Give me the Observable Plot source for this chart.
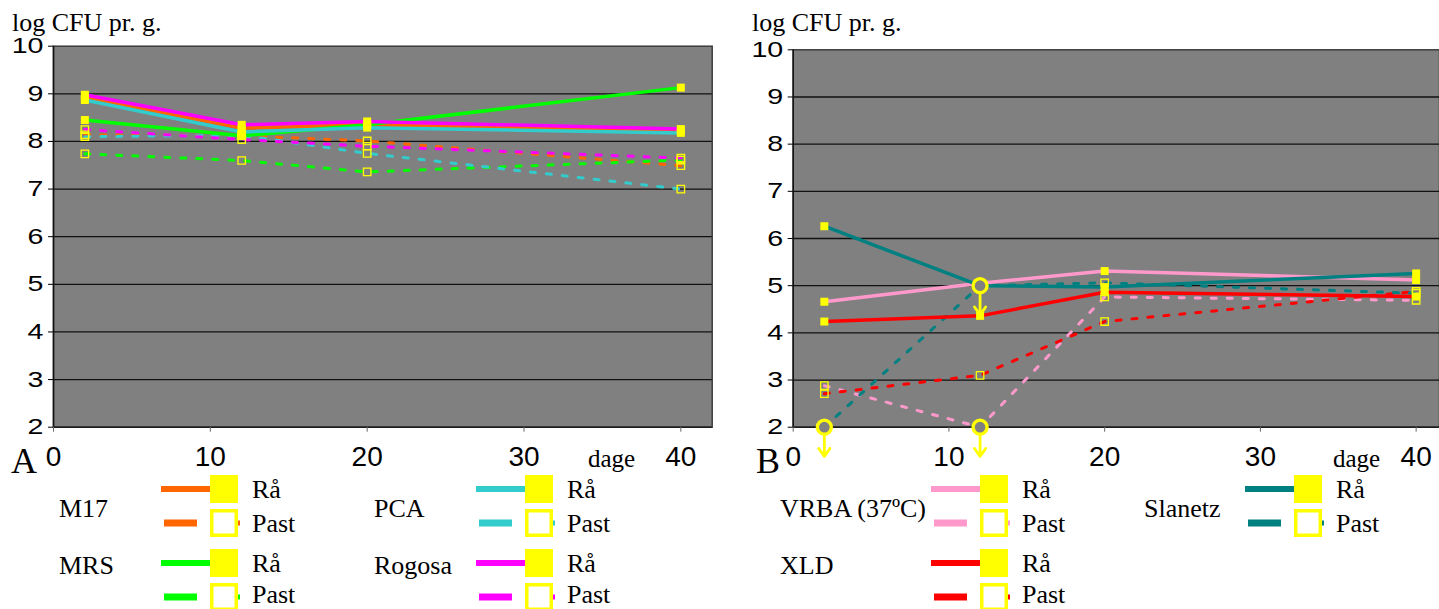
<!DOCTYPE html>
<html><head><meta charset="utf-8">
<script src="https://cdn.jsdelivr.net/npm/d3@7"></script>
<script src="https://cdn.jsdelivr.net/npm/@observablehq/plot@0.6"></script>
<style>
html,body{margin:0;padding:0;background:#fff}
body{width:1439px;height:609px;overflow:hidden;position:relative}
.abs{position:absolute;top:0}
</style></head><body>
<div id="a" class="abs" style="left:0"></div>
<div id="b" class="abs" style="left:720px"></div>
<svg id="overlay" class="abs" style="left:0" width="1439" height="609"></svg>
<script>
// ---------- data ----------
const days = [2, 12, 20, 40];
const xTicks = [0, 10, 20, 30, 40];
const yTicks = [2, 3, 4, 5, 6, 7, 8, 9, 10];
const kinds = ["Rå", "Past"];

// Panel A
const m17Raa = [8.93, 8.28, 8.35, 8.23];
const m17Past = [8.14, 8.12, 8.01, 7.49];
const mrsRaa = [8.45, 8.12, 8.35, 9.13];
const mrsPast = [7.74, 7.60, 7.36, 7.61];
const pcaRaa = [8.87, 8.20, 8.29, 8.18];
const pcaPast = [8.10, 8.13, 7.75, 7.00];
const rogosaRaa = [8.98, 8.35, 8.42, 8.26];
const rogosaPast = [8.25, 8.04, 7.90, 7.65];

// Panel B (below = value is a "<" detection-limit value)
const vrbaRaa = [4.66, 5.05, 5.31, 5.12];
const vrbaPast = [2.88, 2.00, 4.76, 4.69];
const vrbaPastBelow = [false, true, false, false];
const xldRaa = [4.24, 4.36, 4.86, 4.77];
const xldPast = [2.71, 3.10, 4.24, 4.88];
const slanetzRaa = [6.26, 5.00, 4.97, 5.26];
const slanetzPast = [2.00, 5.00, 5.06, 4.84];
const slanetzPastBelow = [true, true, false, false];

const seriesA = [
  {name: "M17", color: "#FF6600", raa: m17Raa, past: m17Past},
  {name: "MRS", color: "#00FF00", raa: mrsRaa, past: mrsPast},
  {name: "PCA", color: "#33CCCC", raa: pcaRaa, past: pcaPast},
  {name: "Rogosa", color: "#FF00FF", raa: rogosaRaa, past: rogosaPast}
];
const seriesB = [
  {name: "VRBA (37ºC)", color: "#FF99CC", raa: vrbaRaa, past: vrbaPast, pastBelow: vrbaPastBelow},
  {name: "XLD", color: "#FF0000", raa: xldRaa, past: xldPast},
  {name: "Slanetz", color: "#008080", raa: slanetzRaa, past: slanetzPast, pastBelow: slanetzPastBelow}
];

// ---------- chart ----------
const YEL = "#FFFF00", BG = "#808080";
function makePanel(series, cfg) {
  const rows = [];
  series.forEach(s => kinds.forEach(kind => {
    const vals = kind === "Rå" ? s.raa : s.past;
    const below = (kind === "Rå" ? s.raaBelow : s.pastBelow) || [];
    days.forEach((d, i) => rows.push({key: s.name + " " + kind, name: s.name, kind, day: d, value: vals[i], below: !!below[i]}));
  }));
  const raa = rows.filter(d => d.kind === "Rå");
  const past = rows.filter(d => d.kind === "Past");
  const chart = Plot.plot({
    width: cfg.width, height: 480,
    marginLeft: cfg.ml, marginRight: cfg.mr, marginTop: cfg.mt, marginBottom: 53.3,
    x: {domain: [0, cfg.xMax]},
    y: {domain: [2, 10]},
    color: {domain: series.map(s => s.name), range: series.map(s => s.color)},
    style: {background: "transparent", overflow: "visible", fontFamily: "'Liberation Sans', Arial, sans-serif", color: "#000"},
    marks: [
      Plot.frame({fill: BG, stroke: "#3c3c3c", strokeWidth: 1.5}),
      Plot.ruleY(yTicks.filter(v => v < 10), {stroke: "#111", strokeWidth: 1.3}),
      Plot.ruleX([0], {stroke: "#111", strokeWidth: 1.5}),
      Plot.axisY({ticks: yTicks, tickSize: 5, tickPadding: 5, fontSize: 22, label: null, stroke: "#000"}),
      Plot.axisX({ticks: xTicks, tickSize: 5, tickPadding: 14, fontSize: 28, label: null, stroke: "#666"}),
      Plot.line(past, {x: "day", y: "value", z: "key", stroke: "name", strokeWidth: 3, strokeDasharray: "5,11"}),
      Plot.line(raa, {x: "day", y: "value", z: "key", stroke: "name", strokeWidth: 3.5}),
      Plot.dot(past.filter(d => !d.below), {x: "day", y: "value", symbol: "square", r: 4.2, fill: "none", stroke: YEL, strokeWidth: 1.3}),
      Plot.dot(raa.filter(d => !d.below), {x: "day", y: "value", symbol: "square", r: 4.5, fill: YEL, stroke: "none"}),
      Plot.dot(rows.filter(d => d.below), {x: "day", y: "value", r: 7, fill: BG, stroke: YEL, strokeWidth: 3.3}),
      Plot.arrow(rows.filter(d => d.below), {x: "day", y1: "value", y2: d => d.value - 0.62, insetStart: 8.7, stroke: YEL, strokeWidth: 2.8, headLength: 12, headAngle: 70})
    ]
  });
  // horizontally widened y tick labels, as in the reference
  chart.querySelectorAll('g[aria-label="y-axis tick label"] text').forEach(t => {
    const x = +(t.getAttribute("x") || 0);
    t.setAttribute("transform", (t.getAttribute("transform") || "") + ` translate(${x},0) scale(1.3,1) translate(${-x},0)`);
  });
  return chart;
}

document.getElementById("a").appendChild(makePanel(seriesA, {width: 720, ml: 53, mr: 8.3, mt: 45.7, xMax: 42}));
document.getElementById("b").appendChild(makePanel(seriesB, {width: 719, ml: 72.7, mr: 0, mt: 49.3, xMax: 41.5}));

// ---------- texts & legends ----------
const ov = d3.select("#overlay").style("font-family", "'Liberation Serif', 'Times New Roman', serif").style("fill", "#000");
const texts = [
  {t: "log CFU pr. g.", x: 12, y: 31, s: 26},
  {t: "log CFU pr. g.", x: 752, y: 31, s: 26},
  {t: "A", x: 11, y: 473, s: 36},
  {t: "B", x: 756, y: 473, s: 36},
  {t: "dage", x: 588, y: 467, s: 25},
  {t: "dage", x: 1333, y: 467, s: 25}
];
texts.forEach(d => ov.append("text").attr("x", d.x).attr("y", d.y).attr("font-size", d.s).text(d.t));

function legend(series, labelX, lineX) {
  const labelY = [508, 565], rowY = [489, 563];
  series.forEach((s, i) => {
    const col = Math.floor(i / 2), row = i % 2;
    const lx = labelX[col], x0 = lineX[col], y = rowY[row];
    ov.append("text").attr("x", lx).attr("y", labelY[row]).attr("dy", "0.33em").attr("font-size", 26).text(s.name);
    // Rå
    ov.append("line").attr("x1", x0).attr("x2", x0 + 50).attr("y1", y).attr("y2", y).attr("stroke", s.color).attr("stroke-width", 6);
    ov.append("rect").attr("x", x0 + 49).attr("y", y - 14).attr("width", 28).attr("height", 28).attr("fill", YEL);
    ov.append("text").attr("x", x0 + 91).attr("y", y).attr("dy", "0.33em").attr("font-size", 26).text("Rå");
    // Past
    const yp = y + 34;
    ov.append("line").attr("x1", x0 + 3).attr("x2", x0 + 36).attr("y1", yp).attr("y2", yp).attr("stroke", s.color).attr("stroke-width", 7);
    ov.append("line").attr("x1", x0 + 74).attr("x2", x0 + 79).attr("y1", yp).attr("y2", yp).attr("stroke", s.color).attr("stroke-width", 5);
    ov.append("rect").attr("x", x0 + 50.75).attr("y", yp - 12.25).attr("width", 24.5).attr("height", 24.5).attr("fill", "#fff").attr("stroke", YEL).attr("stroke-width", 3.5);
    ov.append("text").attr("x", x0 + 91).attr("y", Math.min(yp + 1, 595)).attr("dy", "0.3em").attr("font-size", 26).text("Past");
  });
}
legend(seriesA, [59, 374], [161, 476]);
legend(seriesB, [780, 1144], [931, 1245]);
</script>
</body></html>
